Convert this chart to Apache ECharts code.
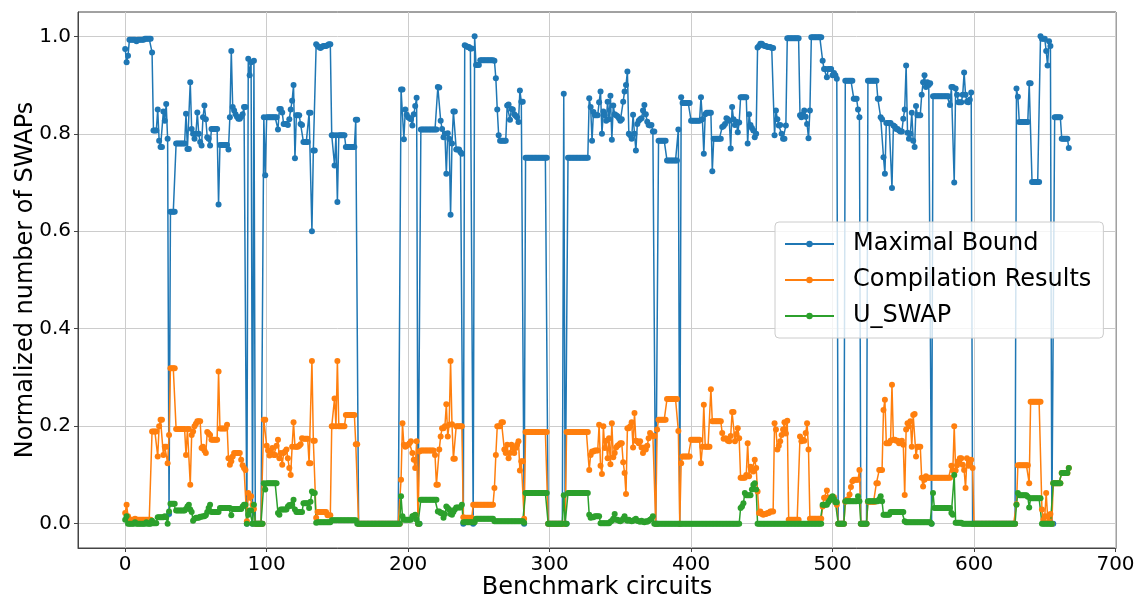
<!DOCTYPE html>
<html><head><meta charset="utf-8">
<script src="https://cdn.jsdelivr.net/npm/echarts@6/dist/echarts.min.js"></script>
<style>html,body{margin:0;padding:0;background:#fff}#c{width:1135px;height:599px}</style>
</head><body><div id="c"></div>
<script>
const seriesNames = ['Maximal Bound', 'Compilation Results', 'U_SWAP'];
const xTicks = [0, 100, 200, 300, 400, 500, 600, 700];
const yTicks = [0, 0.2, 0.4, 0.6, 0.8, 1.0];

const maximalBound = [
0.974,0.947,0.96,0.993,0.993,0.993,0.993,0.993,0.99,0.993,
0.993,0.993,0.993,0.993,0.995,0.995,0.995,0.995,0.995,0.967,
0.807,0.807,0.807,0.85,0.786,0.773,0.773,0.846,0.827,0.861,
0.79,0.02,0.64,0.64,0.64,0.64,0.78,0.78,0.78,0.78,
0.78,0.78,0.78,0.841,0.769,0.769,0.906,0.81,0.8,0.79,
0.8,0.844,0.8,0.783,0.776,0.834,0.858,0.83,0.793,0.79,
0.776,0.81,0.81,0.81,0.81,0.81,0.655,0.777,0.777,0.777,
0.777,0.777,0.777,0.768,0.834,0.97,0.855,0.848,0.84,0.835,
0.831,0.831,0.835,0.84,0.855,0.855,0,0.954,0.92,0.947,
0,0.95,0,0,0,0,0,0,0.834,0.715,
0.834,0.834,0.834,0.834,0.834,0.834,0.834,0.834,0.809,0.851,
0.851,0.844,0.82,0.82,0.82,0.818,0.83,0.85,0.868,0.9,
0.75,0.838,0.838,0.838,0.82,0.818,0.783,0.783,0.783,0.783,
0.843,0.843,0.6,0.766,0.766,0.984,0.98,0.978,0.976,0.978,
0.98,0.98,0.98,0.982,0.984,0.984,0.797,0.797,0.735,0.797,
0.66,0.797,0.797,0.797,0.797,0.797,0.773,0.773,0.773,0.773,
0.773,0.773,0.773,0.829,0.829,0,0,0,0,0,
0,0,0,0,0,0,0,0,0,0,
0,0,0,0,0,0,0,0,0,0,
0,0,0,0,0,0.891,0.891,0.789,0.85,0.839,
0.834,0.832,0.83,0.817,0.84,0.857,0.874,0,0,0.809,
0.809,0.809,0.809,0.809,0.809,0.809,0.809,0.809,0.809,0.809,
0.809,0.896,0.895,0.827,0.81,0.793,0.8,0.718,0.801,0.79,
0.634,0.78,0.846,0.846,0.768,0.768,0.768,0.762,0.759,0,
0.982,0.98,0.978,0.978,0.975,0.975,0,1.0,0.941,0.941,
0.941,0.951,0.951,0.951,0.951,0.951,0.951,0.951,0.951,0.951,
0.951,0.95,0.914,0.85,0.797,0.786,0.786,0.786,0.786,0.786,
0.858,0.86,0.829,0.851,0.85,0.84,0.837,0.834,0.824,0.889,
0.866,0.866,0,0.751,0.751,0.751,0.751,0.751,0.751,0.751,
0.751,0.751,0.751,0.751,0.751,0.751,0.751,0.751,0.751,0,
0,0,0,0,0,0,0,0,0,0,
0.882,0,0,0.751,0.751,0.751,0.751,0.751,0.751,0.751,
0.751,0.751,0.751,0.751,0.751,0.751,0.751,0.751,0.873,0.855,
0.786,0.845,0.838,0.838,0.838,0.865,0.887,0.8,0.846,0.838,
0.827,0.866,0.83,0.878,0.788,0.858,0.84,0.838,0.836,0.832,
0.827,0.83,0.866,0.887,0.9,0.928,0.8,0.797,0.79,0.839,
0.8,0.766,0.82,0.827,0.83,0.832,0.848,0.859,0.84,0.825,
0.818,0.817,0.818,0.805,0.805,0,0,0.786,0.786,0.786,
0.786,0.786,0.786,0.745,0.745,0.745,0.745,0.745,0.745,0.745,
0.745,0.809,0,0.875,0.863,0.863,0.863,0.863,0.863,0.863,
0.827,0.827,0.827,0.827,0.827,0.827,0.827,0.875,0.83,0.759,
0.84,0.843,0.843,0.843,0.843,0.723,0.79,0.79,0.79,0.79,
0.79,0.79,0.814,0.816,0.82,0.832,0.83,0.827,0.77,0.855,
0.83,0.818,0.825,0.803,0.823,0.875,0.875,0.875,0.875,0.875,
0.78,0.84,0.818,0.812,0.807,0.793,0.8,0.977,0.98,0.985,
0.985,0.982,0.98,0.98,0.978,0.978,0.978,0.976,0.976,0.797,
0.848,0.83,0.817,0.818,0.8,0.79,0.79,0.817,0.996,0.996,
0.996,0.996,0.996,0.996,0.996,0.996,0.996,0.838,0.834,0.84,
0.848,0.835,0.82,0.791,0.848,0.998,0.998,0.998,0.998,0.998,
0.998,0.998,0.998,0.95,0.933,0.933,0.916,0.933,0.933,0.933,
0.92,0.925,0.92,0.913,0,0,0,0,0,0.909,
0.909,0.909,0.909,0.909,0.909,0.872,0.872,0.872,0.85,0.834,
0,0,0,0,0,0.909,0.909,0.909,0.909,0.909,
0.909,0.909,0.872,0.872,0.834,0.83,0.752,0.718,0.822,0.822,
0.822,0.822,0.689,0.817,0.815,0.81,0.81,0.807,0.805,0.805,
0.831,0.85,0.94,0.802,0.79,0.8,0.843,0.786,0.773,0.857,
0.838,0.838,0.838,0.88,0.906,0.92,0.896,0.906,0.9,0.904,
0,0.877,0.877,0.877,0.877,0.877,0.877,0.877,0.877,0.877,
0.877,0.877,0.877,0.859,0.896,0.896,0.7,0.893,0.88,0.865,
0.865,0.865,0.88,0.926,0.88,0.866,0.865,0.87,0.885,0,
0,0,0,0,0,0,0,0,0,0,
0,0,0,0,0,0,0,0,0,0,
0,0,0,0,0,0,0,0,0,0,
0.893,0.876,0.824,0.824,0.824,0.824,0.824,0.824,0.824,0.904,
0.904,0.701,0.701,0.701,0.701,0.701,0.701,1.0,0.995,0.995,
0.995,0.97,0.94,0.99,0.98,0,0,0.834,0.834,0.834,
0.834,0.834,0.79,0.79,0.79,0.79,0.79,0.771
];

const compilationResults = [
0.022,0.039,0.015,0.008,0.008,0.008,0.008,0.01,0.008,0.008,
0.008,0.008,0.008,0.008,0.008,0.008,0.008,0.008,0.008,0.189,
0.189,0.189,0.189,0.138,0.2,0.213,0.213,0.141,0.158,0.158,
0.124,0.182,0.319,0.319,0.319,0.319,0.194,0.194,0.194,0.194,
0.194,0.194,0.194,0.141,0.194,0.194,0.08,0.182,0.189,0.2,
0.205,0.21,0.21,0.21,0.155,0.158,0.15,0.145,0.188,0.185,
0.182,0.172,0.172,0.172,0.172,0.172,0.312,0.195,0.195,0.195,
0.195,0.195,0.203,0.134,0.121,0.128,0.138,0.145,0.145,0.145,
0.145,0.145,0.131,0.12,0.114,0.11,0.005,0.063,0.053,0.056,
0.039,0.03,0,0,0,0,0,0,0.213,0.213,
0.16,0.15,0.14,0.145,0.155,0.141,0.141,0.16,0.172,0.134,
0.145,0.121,0.145,0.148,0.152,0.134,0.114,0.1,0.158,0.208,
0.158,0.158,0.158,0.16,0.163,0.175,0.174,0.174,0.174,0.174,
0.124,0.124,0.334,0.17,0.17,0.012,0.024,0.024,0.024,0.024,
0.024,0.024,0.024,0.017,0.017,0.017,0.2,0.2,0.257,0.2,
0.334,0.2,0.2,0.2,0.2,0.2,0.223,0.223,0.223,0.223,
0.223,0.223,0.223,0.163,0.163,0,0,0,0,0,
0,0,0,0,0,0,0,0,0,0,
0,0,0,0,0,0,0,0,0,0,
0,0,0,0,0,0.09,0.206,0.162,0.158,0.16,
0.162,0.165,0.169,0.145,0.131,0.114,0.169,0,0.148,0.15,
0.15,0.15,0.15,0.15,0.15,0.15,0.15,0.15,0.15,0.141,
0.08,0.08,0.152,0.179,0.196,0.196,0.2,0.245,0.179,0.203,
0.334,0.204,0.133,0.133,0.2,0.2,0.2,0.2,0.2,0.013,
0.012,0.012,0.012,0.012,0.012,0.012,0.039,0.039,0.039,0.039,
0.039,0.039,0.039,0.039,0.039,0.039,0.039,0.039,0.039,0.039,
0.039,0.073,0.141,0.2,0.2,0.2,0.208,0.208,0.152,0.145,
0.162,0.134,0.145,0.162,0.155,0.145,0.155,0.162,0.169,0.109,
0.128,0.128,0.01,0.188,0.188,0.188,0.188,0.188,0.188,0.188,
0.188,0.188,0.188,0.188,0.188,0.188,0.188,0.188,0.188,0,
0,0,0,0,0,0,0,0,0,0,
0,0,0.188,0.188,0.188,0.188,0.188,0.188,0.188,0.188,
0.188,0.188,0.188,0.188,0.188,0.188,0.188,0.188,0.11,0.141,
0.148,0.148,0.15,0.15,0.15,0.203,0.119,0.102,0.2,0.155,
0.17,0.134,0.175,0.122,0.206,0.136,0.145,0.156,0.16,0.162,
0.165,0.165,0.126,0.104,0.061,0.196,0.196,0.2,0.208,0.156,
0.227,0.17,0.169,0.165,0.169,0.156,0.145,0.156,0.152,0.16,
0.175,0.186,0.182,0.18,0.18,0,0.193,0.213,0.213,0.213,
0.213,0.213,0.213,0.256,0.256,0.256,0.256,0.256,0.256,0.256,
0.256,0.19,0,0.124,0.138,0.138,0.138,0.138,0.138,0.138,
0.172,0.172,0.172,0.172,0.172,0.172,0.172,0.124,0.158,0.244,
0.158,0.158,0.158,0.158,0.276,0.21,0.21,0.21,0.21,0.21,
0.21,0.21,0.186,0.174,0.175,0.174,0.17,0.169,0.18,0.229,
0.229,0.169,0.184,0.196,0.175,0.094,0.094,0.094,0.094,0.1,
0.165,0.097,0.117,0.11,0.107,0.131,0.114,0.066,0.022,0.025,
0.02,0.018,0.02,0.02,0.022,0.022,0.025,0.025,0.025,0.206,
0.193,0.152,0.16,0.169,0.182,0.193,0.208,0.185,0.211,0.008,
0.008,0.008,0.008,0.008,0.008,0.008,0.008,0.179,0.169,0.172,
0.17,0.186,0.206,0.152,0.01,0.01,0.01,0.01,0.01,0.01,
0.01,0.01,0.01,0.035,0.053,0.053,0.068,0.053,0.053,0.054,
0.054,0.054,0.045,0.039,0,0,0,0,0,0.045,
0.049,0.05,0.06,0.075,0.087,0.09,0.09,0.09,0.09,0.11,
0,0,0,0,0,0.045,0.045,0.045,0.045,0.045,
0.045,0.083,0.083,0.11,0.11,0.11,0.233,0.254,0.165,0.165,
0.165,0.17,0.285,0.172,0.172,0.17,0.17,0.165,0.168,0.17,
0.162,0.059,0.193,0.206,0.2,0.21,0.158,0.223,0.225,0.138,
0.158,0.158,0.158,0.094,0.076,0.09,0.097,0.094,0.094,0.094,
0.094,0.094,0.094,0.094,0.094,0.094,0.094,0.094,0.094,0.094,
0.094,0.094,0.094,0.094,0.119,0.109,0.2,0.109,0.12,0.128,
0.134,0.134,0.121,0.11,0.073,0.134,0.119,0.125,0.131,0.114,
0,0,0,0,0,0,0,0,0,0,
0,0,0,0,0,0,0,0,0,0,
0,0,0,0,0,0,0,0,0,0,
0.04,0.12,0.12,0.12,0.12,0.12,0.12,0.12,0.12,0.083,
0.25,0.25,0.25,0.25,0.25,0.25,0.25,0.25,0.029,0.008,
0.015,0.063,0.015,0.005,0.02,0,0.083,0.083,0.083,0.083,
0.083,0.083,0.104,0.104,0.104,0.104,0.104,0.114
];

const uSwap = [
0.008,0.015,0,0,0,0,0,0.003,0,0,
0,0,0,0,0,0.003,0,0,0,0.006,
0.001,0.001,0.001,0.013,0.013,0.013,0.013,0.013,0.015,0.013,
0,0.025,0.041,0.041,0.041,0.041,0.027,0.027,0.027,0.027,
0.027,0.027,0.027,0.03,0.035,0.039,0.029,0.024,0.006,0.01,
0.012,0.012,0.012,0.014,0.014,0.015,0.015,0.017,0.024,0.032,
0.039,0.024,0.024,0.024,0.024,0.024,0.024,0.032,0.032,0.032,
0.032,0.032,0.032,0.032,0.032,0.017,0.03,0.03,0.03,0.03,
0.03,0.03,0.03,0.035,0.039,0.039,0,0.018,0.027,0.027,
0,0.039,0,0,0,0,0,0,0.083,0.07,
0.083,0.083,0.083,0.083,0.083,0.083,0.083,0.083,0.022,0.018,
0.029,0.029,0.029,0.029,0.029,0.035,0.038,0.036,0.04,0.049,
0.029,0.024,0.024,0.024,0.024,0.024,0.042,0.042,0.042,0.042,
0.032,0.045,0.066,0.063,0.063,0.002,0.003,0.003,0.003,0.003,
0.003,0.003,0.003,0.003,0.003,0.003,0.007,0.007,0.007,0.007,
0.007,0.007,0.007,0.007,0.007,0.007,0.007,0.007,0.007,0.007,
0.007,0.007,0.007,0.007,0,0,0,0,0,0,
0,0,0,0,0,0,0,0,0,0,
0,0,0,0,0,0,0,0,0,0,
0,0,0,0,0,0.056,0.015,0.008,0.008,0.008,
0.008,0.008,0.008,0.015,0.016,0.018,0.008,0,0,0.049,
0.049,0.049,0.049,0.049,0.049,0.049,0.049,0.049,0.049,0.049,
0.049,0.025,0.025,0.022,0.022,0.012,0.02,0.035,0.032,0.029,
0.02,0.018,0.024,0.029,0.033,0.033,0.033,0.033,0.039,0.003,
0.003,0.003,0.003,0.003,0.003,0.003,0.003,0.003,0.01,0.01,
0.01,0.01,0.01,0.01,0.01,0.01,0.01,0.01,0.01,0.01,
0.01,0.005,0.005,0.005,0.005,0.005,0.005,0.005,0.005,0.005,
0.005,0.005,0.005,0.005,0.005,0.005,0.005,0.005,0.005,0.005,
0.005,0.005,0.002,0.063,0.063,0.063,0.063,0.063,0.063,0.063,
0.063,0.063,0.063,0.063,0.063,0.063,0.063,0.063,0.063,0,
0,0,0,0,0,0,0,0,0,0,
0.058,0,0,0.063,0.063,0.063,0.063,0.063,0.063,0.063,
0.063,0.063,0.063,0.063,0.063,0.063,0.063,0.063,0.018,0.012,
0.013,0.013,0.015,0.015,0.015,0.015,0.001,0.001,0.001,0.001,
0.001,0.001,0.001,0.004,0.006,0.01,0.02,0.008,0.008,0.006,
0.005,0.007,0.01,0.015,0.008,0.006,0.008,0.006,0.005,0.006,
0.008,0.01,0.006,0.005,0.004,0.006,0.004,0.003,0.005,0.004,
0.006,0.008,0.01,0.015,0,0,0,0,0,0,
0,0,0,0,0,0,0,0,0,0,
0,0,0,0,0,0,0,0,0,0,
0,0,0,0,0,0,0,0,0,0,
0,0,0,0,0,0,0,0,0,0,
0,0,0,0,0,0,0,0,0,0,
0,0,0,0,0,0.032,0.035,0.042,0.063,0.058,
0.058,0.058,0.058,0.07,0.08,0.083,0.07,0,0,0,
0,0,0,0,0,0,0,0,0,0,
0,0,0,0,0,0,0,0,0,0,
0,0,0,0,0,0,0,0,0,0,
0,0,0,0,0,0,0,0,0,0,
0,0,0,0.039,0.039,0.039,0.039,0.044,0.048,0.053,
0.056,0.05,0.044,0.044,0,0,0,0,0,0.046,
0.046,0.046,0.046,0.046,0.046,0.046,0.046,0.046,0.056,0.046,
0,0,0,0,0,0.046,0.046,0.046,0.046,0.046,
0.046,0.046,0.046,0.05,0.056,0.046,0.018,0.018,0.018,0.018,
0.018,0.024,0.024,0.024,0.024,0.024,0.024,0.024,0.024,0.024,
0.024,0.005,0.003,0.003,0.003,0.003,0.003,0.003,0.003,0.003,
0.003,0.003,0.003,0.003,0.003,0.003,0.003,0.003,0.003,0.003,
0,0.063,0.032,0.032,0.032,0.032,0.032,0.032,0.032,0.032,
0.032,0.032,0.032,0.032,0.022,0.018,0.1,0.002,0.002,0.002,
0.002,0.002,0,0,0,0,0,0,0,0,
0,0,0,0,0,0,0,0,0,0,
0,0,0,0,0,0,0,0,0,0,
0,0,0,0,0,0,0,0,0,0,
0.039,0.063,0.058,0.058,0.058,0.058,0.058,0.058,0.055,0.033,
0.052,0.052,0.052,0.052,0.052,0.052,0.052,0.052,0,0,
0,0,0,0,0,0,0.083,0.083,0.083,0.083,
0.083,0.083,0.104,0.104,0.104,0.104,0.104,0.114
];

const colors = ['#1f77b4', '#ff7f0e', '#2ca02c'];
const circuits = maximalBound.map((_, i) => i);
const toPairs = arr => arr.map((v, i) => [circuits[i], v]);

const FONT = 'DejaVu Sans';
const chart = echarts.init(document.getElementById('c'), null, { renderer: 'canvas' });

function mkSeries(name, arr, color) {
  return {
    name: name,
    type: 'line',
    data: toPairs(arr),
    symbol: 'circle',
    symbolSize: 6,
    showSymbol: true,
    showAllSymbol: true,
    lineStyle: { color: color, width: 1.5 },
    itemStyle: { color: color },
    emphasis: { disabled: true },
    animation: false,
    z: 3
  };
}

chart.setOption({
  backgroundColor: '#ffffff',
  animation: false,
  textStyle: { fontFamily: FONT },
  grid: {
    left: 78, right: 19, top: 12, bottom: 51,
    outerBoundsMode: 'none', containLabel: false,
    show: true, borderColor: '#444', borderWidth: 1, backgroundColor: '#fff'
  },
  legend: {
    data: seriesNames,
    orient: 'vertical',
    left: 775, top: 222,
    itemWidth: 49, itemHeight: 8, itemGap: 10,
    padding: [9, 12, 9, 9],
    backgroundColor: 'rgba(255,255,255,0.8)',
    borderColor: '#cccccc', borderWidth: 1, borderRadius: 4,
    textStyle: { fontFamily: FONT, fontSize: 24, color: '#000', lineHeight: 26, padding: [0, 0, 0, 14] }
  },
  xAxis: {
    type: 'value',
    min: -33.35, max: 700.35,
    name: 'Benchmark circuits',
    nameLocation: 'middle', nameGap: 28, nameMoveOverlap: false,
    nameTextStyle: { fontFamily: FONT, fontSize: 24, color: '#000' },
    axisLine: { show: true, onZero: false, lineStyle: { color: '#444', width: 1 } },
    axisTick: { show: true, inside: false, length: 4, lineStyle: { color: '#444' }, customValues: xTicks },
    axisLabel: { fontFamily: FONT, fontSize: 20, color: '#000', margin: 7, customValues: xTicks },
    splitLine: { show: true, lineStyle: { color: '#cccccc', width: 1 } }
  },
  yAxis: {
    type: 'value',
    min: -0.05, max: 1.05,
    name: 'Normalized number of SWAPs',
    nameLocation: 'middle', nameGap: 40, nameMoveOverlap: false,
    nameTextStyle: { fontFamily: FONT, fontSize: 24, color: '#000' },
    axisLine: { show: true, onZero: false, lineStyle: { color: '#444', width: 1 } },
    axisTick: { show: true, inside: false, length: 4, lineStyle: { color: '#444' }, customValues: yTicks },
    axisLabel: { fontFamily: FONT, fontSize: 20, color: '#000', margin: 7, customValues: yTicks,
      formatter: v => v.toFixed(1) },
    splitLine: { show: true, lineStyle: { color: '#cccccc', width: 1 } }
  },
  series: [
    mkSeries(seriesNames[0], maximalBound, colors[0]),
    mkSeries(seriesNames[1], compilationResults, colors[1]),
    mkSeries(seriesNames[2], uSwap, colors[2])
  ]
});
</script>
</body></html>
